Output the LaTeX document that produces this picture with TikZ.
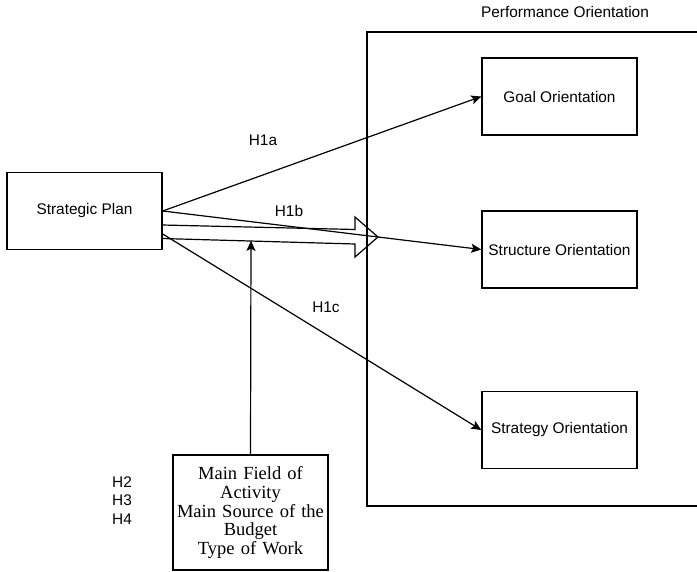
\documentclass[tikz,border=0pt]{standalone}
\usepackage{fontspec}
\setmainfont{Liberation Serif}
\setsansfont{Liberation Sans}
\usetikzlibrary{arrows.meta,calc}
\begin{document}
\begin{tikzpicture}[x=1pt,y=-1pt,
  box/.style={draw, line width=1.4pt, minimum width=155pt, minimum height=77pt, inner sep=1pt,
    font=\sffamily\fontsize{15.4}{17}\selectfont},
  lbl/.style={font=\sffamily\fontsize{15.4}{17}\selectfont, inner sep=0pt},
  arr/.style={line width=1.2pt, -{Stealth[length=10pt,width=9pt,inset=2pt]}},
  ln/.style={line width=1.2pt}]
\useasboundingbox (0,0) rectangle (697,572);
\node[box] (sp) at (84.5,211) {Strategic Plan};
\node[box] (goal) at (559.5,96.5) {Goal Orientation};
\node[box] (struct) at (559.5,249.5) {Structure Orientation};
\node[box] (strat) at (559.5,430) {Strategy Orientation};
\node[box, font=\rmfamily\fontsize{18.5}{18.6}\selectfont, minimum height=115pt, text width=153pt, align=center] (mod) at (250.5,512.5)
  {Main Field of\\Activity\\Main Source of the\\Budget\\Type of Work};
% outer frame
\draw[line width=1.4pt] (697,32) -| (367,506) -- (697,506);
\node[lbl] (perf) at (565,12) {Performance Orientation};
% hollow arrow
\coordinate (ha1) at (162,225);
\coordinate (ha2) at (355,229.5);
\coordinate (ha3) at (355,217);
\coordinate (ha4) at (378,237);
\coordinate (ha5) at (355,257);
\coordinate (ha6) at (355,244);
\coordinate (ha7) at (162,238.5);
\draw[ln, line join=miter] (ha1) -- (ha2) -- (ha3) -- (ha4) -- (ha5) -- (ha6) -- (ha7);
% hypotheses
\draw[arr] (sp.east) -- (goal.west);
\draw[arr] (sp.east) -- (struct.west);
\draw[arr] ($(sp.east)+(0,23)$) -- (strat.west);
\coordinate (hb) at (251,240.8);
\draw[arr] (mod.north) -- (hb);
% labels
\node[lbl] (h1a) at (263,140) {H1a};
\node[lbl] (h1b) at (289,211) {H1b};
\node[lbl] (h1c) at (326,307) {H1c};
\node[lbl] (h2) at (122,482) {H2};
\node[lbl] (h3) at (122,500) {H3};
\node[lbl] (h4) at (122,519) {H4};
\end{tikzpicture}
\end{document}
